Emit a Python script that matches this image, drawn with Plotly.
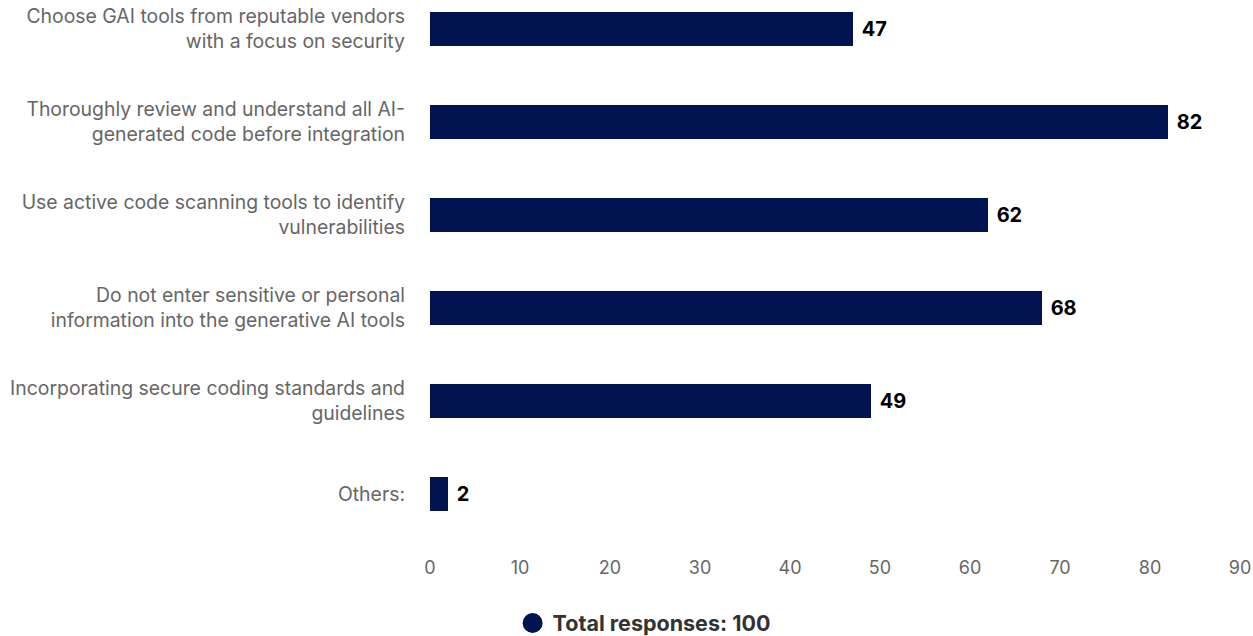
import plotly.graph_objects as go

categories = [
    "Choose GAI tools from reputable vendors<br>with a focus on security",
    "Thoroughly review and understand all AI-<br>generated code before integration",
    "Use active code scanning tools to identify<br>vulnerabilities",
    "Do not enter sensitive or personal<br>information into the generative AI tools",
    "Incorporating secure coding standards and<br>guidelines",
    "Others:",
]
responses = [47, 82, 62, 68, 49, 2]
series_name = "Total responses: 100"
x_ticks = [0, 10, 20, 30, 40, 50, 60, 70, 80, 90]

BAR_COLOR = "#021352"
FONT = "Inter, Roboto, sans-serif"

fig = go.Figure()
fig.add_trace(go.Bar(
    y=categories,
    x=responses,
    orientation="h",
    marker=dict(color=BAR_COLOR, line=dict(width=0)),
    width=0.365,
    text=responses,
    texttemplate="\u00a0<b>%{text}</b>",
    textposition="outside",
    textfont=dict(family=FONT, size=20, color="#000000"),
    cliponaxis=False,
    showlegend=False,
    name=series_name,
))
# legend entry with a round marker for the series
fig.add_trace(go.Scatter(
    x=[None], y=[None],
    mode="markers",
    marker=dict(color=BAR_COLOR, size=20, symbol="circle",
                line=dict(color=BAR_COLOR, width=4)),
    name="<b>" + series_name + "</b>",
    showlegend=True,
))

fig.update_layout(
    width=1253,
    height=636,
    margin=dict(l=430, r=13, t=0, b=91, autoexpand=False),
    plot_bgcolor="white",
    paper_bgcolor="white",
    font=dict(family=FONT, size=18, color="#666666"),
    bargap=0,
    xaxis=dict(
        range=[0, 90],
        tickvals=x_ticks,
        showgrid=False,
        zeroline=False,
        showline=False,
        ticks="",
        ticklabelstandoff=10,
        ticklabeloverflow="allow",
        tickfont=dict(family=FONT, size=18, color="#666666"),
        fixedrange=True,
    ),
    yaxis=dict(
        categoryorder="array",
        categoryarray=categories,
        range=[5.548, -0.312],
        showgrid=False,
        zeroline=False,
        showline=False,
        ticks="",
        ticklabelstandoff=24,
        tickfont=dict(family=FONT, size=19.4, color="#666666"),
        fixedrange=True,
    ),
    legend=dict(
        orientation="h",
        x=0.102,
        xanchor="left",
        yref="container",
        y=13 / 636,
        yanchor="middle",
        font=dict(family=FONT, size=21.5, color="#333333"),
        itemsizing="trace",
    ),
)

fig.write_html("out.html")
